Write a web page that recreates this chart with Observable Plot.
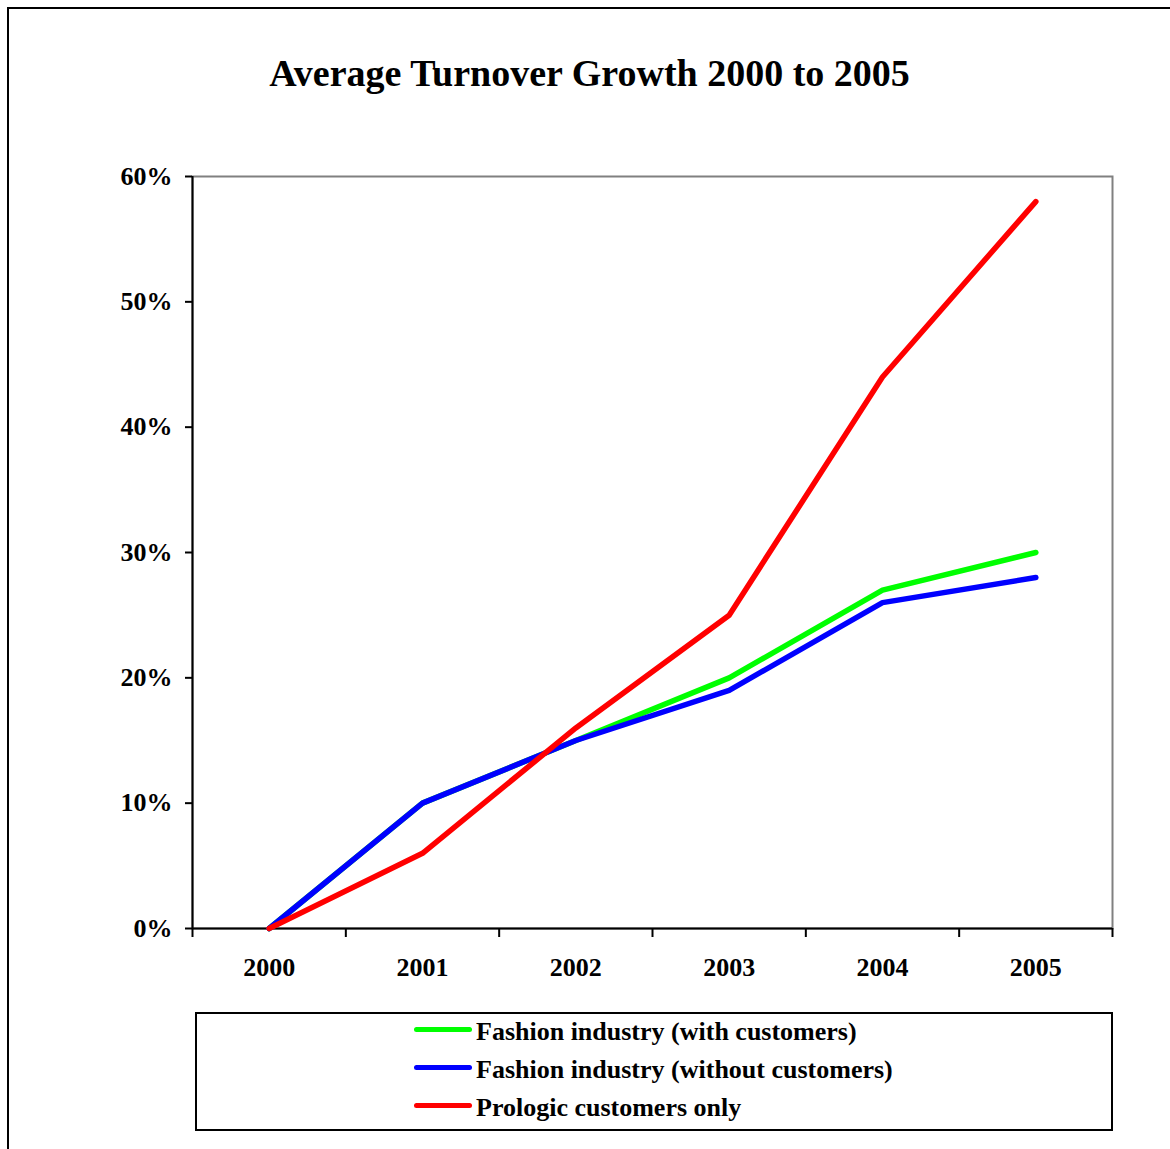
<!DOCTYPE html>
<html>
<head>
<meta charset="utf-8">
<script src="https://cdn.jsdelivr.net/npm/d3@7"></script>
<script src="https://cdn.jsdelivr.net/npm/@observablehq/plot@0.6"></script>
<style>
  body { margin: 0; background: #fff; overflow: hidden; font-family: "Liberation Serif", "Times New Roman", serif; }
  #page { position: relative; width: 1170px; height: 1149px; overflow: hidden; background: #fff; }
  #page svg { position: absolute; left: 0; top: 0; }
  #border { position: absolute; left: 7px; top: 7px; width: 1300px; height: 1300px; border: 2.5px solid #000; pointer-events: none; }
  #title { position: absolute; left: 0; width: 1179px; top: 54px; text-align: center; font-weight: bold; font-size: 38px; line-height: 38px; white-space: nowrap; }
  #legend { position: absolute; left: 195px; top: 1012px; width: 918px; height: 119px; border: 2px solid #000; box-sizing: border-box; }
  .row { position: absolute; font-weight: bold; font-size: 26px; line-height: 26px; white-space: nowrap; }
  .swatch { position: absolute; height: 5px; border-radius: 3px; }
</style>
</head>
<body>
<div id="page">
  <div id="title">Average Turnover Growth 2000 to 2005</div>
  <div id="legend"></div>
  <div id="border"></div>
</div>
<script>
// Years on the horizontal axis
const years = [2000, 2001, 2002, 2003, 2004, 2005];

// Cumulative turnover growth, in percent
const fashionWithCustomers = [0, 10, 15, 20, 27, 30];
const fashionWithoutCustomers = [0, 10, 15, 19, 26, 28];
const prologicCustomers = [0, 6, 16, 25, 44, 58];

// Series names and colours (drawing order: first at the bottom)
const seriesNames = [
  "Fashion industry (with customers)",
  "Fashion industry (without customers)",
  "Prologic customers only"
];
const seriesColors = ["#00ff00", "#0000ff", "#ff0000"];
const seriesValues = [fashionWithCustomers, fashionWithoutCustomers, prologicCustomers];

// Y axis ticks
const yTicks = [0, 10, 20, 30, 40, 50, 60];

// Long-format table for the line marks
const rows = seriesNames.flatMap((name, i) =>
  years.map((year, j) => ({series: name, year, value: seriesValues[i][j]}))
);

// Category boundaries between the years, where the x tick marks sit
const boundaries = [...years.map(y => y - 0.5), d3.max(years) + 0.5];

const font = "'Liberation Serif', 'Times New Roman', serif";

const chart = Plot.plot({
  width: 1170,
  height: 1149,
  marginTop: 176,
  marginLeft: 192,
  marginRight: 58,
  marginBottom: 221,
  style: {fontFamily: font, fontSize: "26px", fontWeight: "bold", color: "#000", background: "transparent"},
  x: {type: "linear", domain: [d3.min(boundaries), d3.max(boundaries)]},
  y: {domain: [0, 60]},
  color: {domain: seriesNames, range: seriesColors},
  marks: [
    Plot.frame({stroke: "#808080", strokeWidth: 2}),
    Plot.ruleX([d3.min(boundaries)], {stroke: "#000", strokeWidth: 2}),
    Plot.ruleY([0], {stroke: "#000", strokeWidth: 2}),
    Plot.axisY({
      ticks: yTicks, tickSize: 7, tickPadding: 13,
      tickFormat: d => d + "%", stroke: "#000", strokeWidth: 2,
      fill: "#000", fontSize: 26, fontWeight: "bold", label: null
    }),
    Plot.axisX({
      ticks: boundaries, tickSize: 9, tickFormat: () => "",
      stroke: "#000", strokeWidth: 2, label: null
    }),
    Plot.axisX({
      ticks: years, tickSize: 0, tickPadding: 29,
      tickFormat: d => String(d), fill: "#000",
      fontSize: 26, fontWeight: "bold", label: null
    }),
    Plot.line(rows, {
      x: "year", y: "value", z: "series", stroke: "series",
      strokeWidth: 5.5, strokeLinecap: "round", strokeLinejoin: "round"
    })
  ]
});

const page = document.getElementById("page");
page.insertBefore(chart, page.firstChild);

// Legend built from the series arrays
const legendTop = 1029;
const legendStep = 38;
const pageSel = d3.select("#page");
seriesNames.forEach((name, i) => {
  const cy = legendTop + i * legendStep;
  pageSel.append("div")
    .attr("class", "swatch")
    .style("left", "414px")
    .style("width", "58px")
    .style("top", (cy - 2.5) + "px")
    .style("background", seriesColors[i]);
  pageSel.append("div")
    .attr("class", "row")
    .style("left", "476px")
    .style("top", (cy - 10) + "px")
    .text(name);
});
</script>
</body>
</html>
